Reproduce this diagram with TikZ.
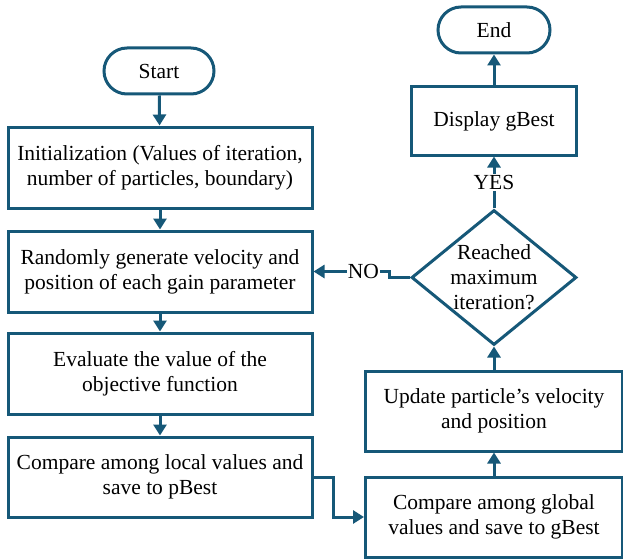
\documentclass[tikz,border=0pt]{standalone}
\usepackage{fontspec}
\setmainfont{Liberation Serif}
\usetikzlibrary{arrows.meta,shapes.geometric}
\definecolor{flowblue}{RGB}{22,88,120}
\begin{document}
\begin{tikzpicture}[x=1pt,y=-1pt,
    txt/.style={font=\fontsize{21.5}{25}\selectfont,align=center},
    box/.style={txt,draw=flowblue,line width=3pt,rectangle,inner sep=0pt},
    term/.style={box,rounded corners=23pt,minimum width=110pt,minimum height=46pt},
    wide/.style={box,minimum width=304pt,minimum height=80pt},
    link/.style={draw=flowblue,line width=3pt,-{Triangle[length=11pt,width=13pt]}}]
    \useasboundingbox (0,0) rectangle (623,559);
    % left column
    \node[term] (start) at (159,71) {Start};
    \node[wide,minimum height=81pt] (init) at (160,167.5) {Initialization (Values of iteration,\\number of particles, boundary)};
    \node[wide,minimum height=81pt] (rand) at (160,271.5) {Randomly generate velocity and\\position of each gain parameter};
    \node[wide,minimum height=81pt] (eval) at (160,373.5) {Evaluate the value of the\\objective function};
    \node[wide] (local) at (160,477) {Compare among local values and\\save to pBest};
    % right column
    \node[box,minimum width=257pt,minimum height=80pt] (global) at (494,517) {Compare among global\\values and save to gBest};
    \node[box,minimum width=257pt,minimum height=80pt] (update) at (494,411) {Update particle’s velocity\\and position};
    \node[diamond,draw=flowblue,line width=3pt,minimum width=165pt,minimum height=135pt,inner sep=0pt] (check) at (494,277.5) {};
    \node[txt] (checktext) at (check) {Reached\\maximum\\iteration?};
    \node[box,minimum width=165pt,minimum height=68pt] (show) at (494,121) {Display gBest};
    \node[term,minimum width=112pt] (finish) at (494,30) {End};
    % connectors
    \draw[link] (start) -- (init);
    \draw[link] (init) -- (rand);
    \draw[link] (rand) -- (eval);
    \draw[link] (eval) -- (local);
    \draw[link] (local.east) -- ++(20,0) |- (global.west);
    \draw[link] (global) -- (update);
    \draw[link] (update) -- (check);
    \draw[link] (check) -- node[txt,fill=white,inner sep=1pt] (yes) {YES} (show);
    \draw[link] (show) -- (finish);
    \draw[link] (check.west) -- ++(-21,0) |- node[txt,pos=0.67,fill=white,inner sep=1pt] (no) {NO} (rand.east);
\end{tikzpicture}
\end{document}
